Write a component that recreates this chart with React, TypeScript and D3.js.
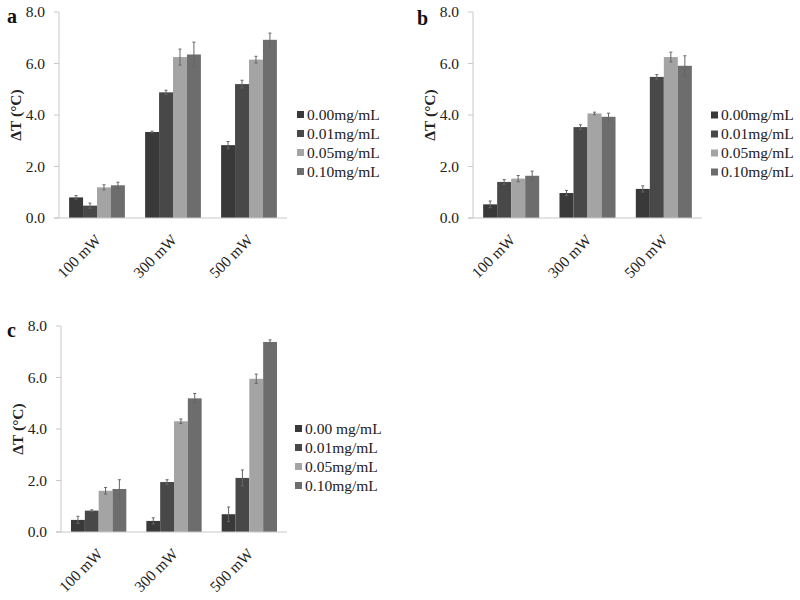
import React from 'react';
import * as d3 from 'd3';

const categories = ['100 mW', '300 mW', '500 mW'];
const seriesLabelsAB = ['0.00mg/mL', '0.01mg/mL', '0.05mg/mL', '0.10mg/mL'];
const seriesLabelsC = ['0.00 mg/mL', '0.01mg/mL', '0.05mg/mL', '0.10mg/mL'];
const seriesColors = ['#393939', '#484848', '#a4a4a4', '#6d6d6d'];
const yTicks = [0, 2, 4, 6, 8];

// values[series][category]
const valuesA = [
  [0.80, 3.34, 2.83],
  [0.48, 4.88, 5.20],
  [1.19, 6.25, 6.15],
  [1.27, 6.35, 6.92],
];
const errorsA = [
  [0.07, 0.03, 0.14],
  [0.10, 0.08, 0.15],
  [0.10, 0.31, 0.13],
  [0.12, 0.48, 0.26],
];
const valuesB = [
  [0.53, 0.97, 1.13],
  [1.40, 3.53, 5.48],
  [1.53, 4.06, 6.25],
  [1.64, 3.93, 5.91],
];
const errorsB = [
  [0.13, 0.10, 0.12],
  [0.09, 0.09, 0.09],
  [0.12, 0.05, 0.19],
  [0.18, 0.14, 0.39],
];
const valuesC = [
  [0.47, 0.43, 0.69],
  [0.83, 1.94, 2.10],
  [1.60, 4.30, 5.95],
  [1.67, 5.19, 7.38],
];
const errorsC = [
  [0.14, 0.12, 0.28],
  [0.03, 0.09, 0.31],
  [0.13, 0.09, 0.18],
  [0.36, 0.19, 0.08],
];

const FONT = '"Liberation Serif", "Times New Roman", serif';

type PanelProps = {
  letter: string;
  values: number[][];
  errors: number[][];
  labels: string[];
  x0: number;
  x1: number;
  yTop: number;
  yBottom: number;
  letterX: number;
  letterY: number;
  legendSquareX: number;
  legendY0: number;
};

function Panel(p: PanelProps) {
  const x = d3.scaleBand<string>().domain(categories).range([p.x0, p.x1]).paddingInner(0.266).paddingOuter(0.133);
  const xs = d3.scaleBand<number>().domain(d3.range(p.labels.length)).range([0, x.bandwidth()]).padding(0);
  const y = d3.scaleLinear().domain([0, 8]).range([p.yBottom, p.yTop]);
  const axisColor = '#c8c8c8';
  const errColor = '#666';
  return (
    <g fontFamily={FONT}>
      <text x={p.letterX} y={p.letterY} fontSize={20} fontWeight="bold" fill="#111">{p.letter}</text>
      {/* y axis */}
      <line x1={p.x0} x2={p.x0} y1={y(8)} y2={y(0)} stroke={axisColor} strokeWidth={1} />
      {yTicks.map((t) => (
        <g key={t}>
          <line x1={p.x0 - 5} x2={p.x0} y1={y(t)} y2={y(t)} stroke={axisColor} strokeWidth={1} />
          <text x={p.x0 - 14} y={y(t)} dy="0.35em" textAnchor="end" fontSize={15.5} fill="#222">{d3.format('.1f')(t)}</text>
        </g>
      ))}
      <text transform={`translate(${p.x0 - 43},${(p.yTop + p.yBottom) / 2}) rotate(-90)`} textAnchor="middle" dy="0.35em" fontSize={15.5} fontWeight="bold" fill="#222">ΔT (°C)</text>
      {/* bars */}
      {p.values.map((row, si) =>
        row.map((v, ci) => {
          const bx = (x(categories[ci]) ?? 0) + (xs(si) ?? 0);
          const bw = xs.bandwidth();
          const cx = bx + bw / 2;
          const e = p.errors[si][ci];
          return (
            <g key={`${si}-${ci}`}>
              <rect x={bx} y={y(v)} width={bw} height={y(0) - y(v)} fill={seriesColors[si]} />
              <line x1={cx} x2={cx} y1={y(v + e)} y2={y(Math.max(0, v - e))} stroke={errColor} strokeWidth={1} />
              <line x1={cx - 1.5} x2={cx + 1.5} y1={y(v + e)} y2={y(v + e)} stroke={errColor} strokeWidth={1} />
              <line x1={cx - 1.5} x2={cx + 1.5} y1={y(Math.max(0, v - e))} y2={y(Math.max(0, v - e))} stroke={errColor} strokeWidth={1} />
            </g>
          );
        })
      )}
      {/* x axis */}
      <line x1={p.x0 - 5} x2={p.x1} y1={y(0)} y2={y(0)} stroke={axisColor} strokeWidth={1} />
      {categories.map((c) => {
        const cx = (x(c) ?? 0) + x.bandwidth() / 2;
        return (
          <text key={c} transform={`translate(${cx + 1},${y(0) + 19}) rotate(-45)`} textAnchor="end" dy="0.35em" fontSize={15.5} fill="#222">{c}</text>
        );
      })}
      {/* legend */}
      {p.labels.map((l, i) => {
        const ly = p.legendY0 + i * 19;
        return (
          <g key={l}>
            <rect x={p.legendSquareX} y={ly - 3.5} width={7} height={7} fill={seriesColors[i]} />
            <text x={p.legendSquareX + 10} y={ly} dy="0.35em" fontSize={15.5} fill="#222">{l}</text>
          </g>
        );
      })}
    </g>
  );
}

export default function App() {
  return (
    <svg width={800} height={600} style={{ position: 'absolute', left: 0, top: 0, background: '#fff' }}>
      <rect x={0} y={0} width={800} height={600} fill="#fff" />
      <Panel letter="a" values={valuesA} errors={errorsA} labels={seriesLabelsAB}
        x0={59} x1={287} yTop={12} yBottom={218} letterX={7} letterY={23}
        legendSquareX={297} legendY0={114.5} />
      <Panel letter="b" values={valuesB} errors={errorsB} labels={seriesLabelsAB}
        x0={473} x1={702} yTop={12} yBottom={218} letterX={417} letterY={25}
        legendSquareX={711} legendY0={115} />
      <Panel letter="c" values={valuesC} errors={errorsC} labels={seriesLabelsC}
        x0={61} x1={287} yTop={326} yBottom={532} letterX={7} letterY={337}
        legendSquareX={295} legendY0={428.5} />
    </svg>
  );
}
